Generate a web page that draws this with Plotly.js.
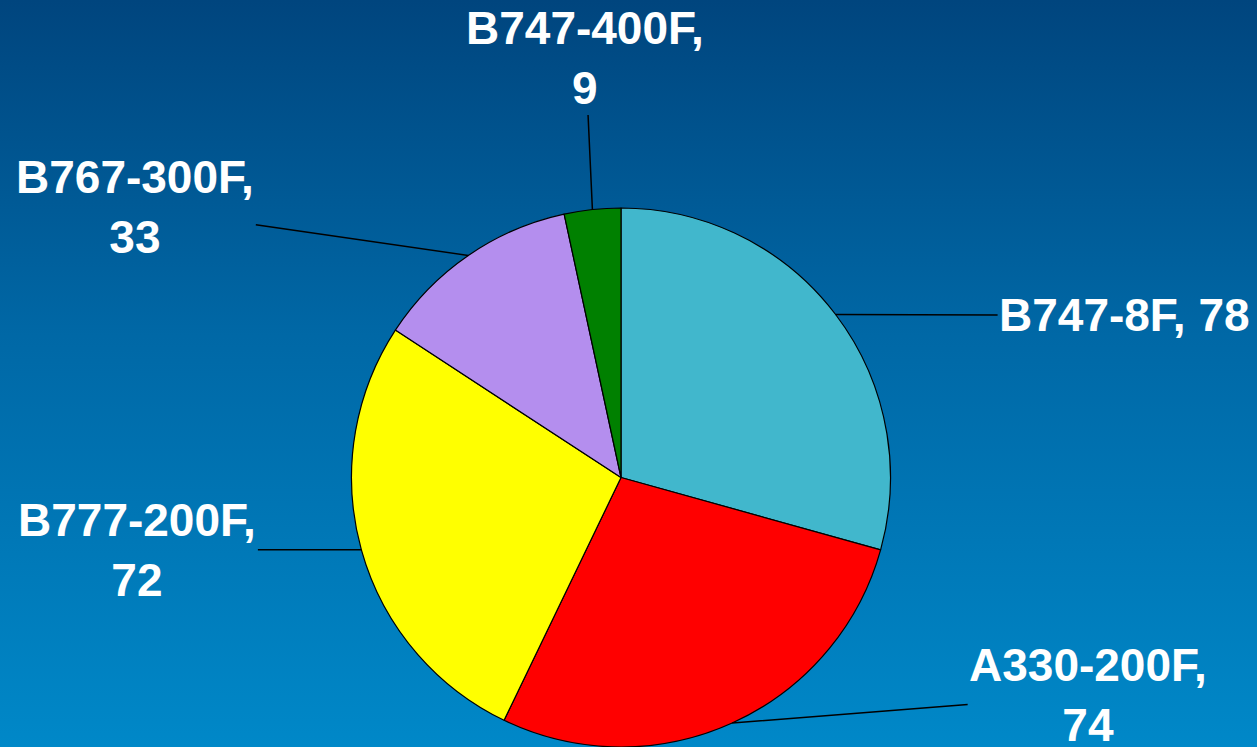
<!DOCTYPE html>
<html>
<head>
<meta charset="utf-8">
<script src="https://cdn.plot.ly/plotly-3.0.1.min.js"></script>
<style>
  html, body { margin: 0; padding: 0; }
  body {
    width: 1257px; height: 747px; overflow: hidden;
    background: linear-gradient(to bottom, #00457e 0%, #0068a6 45%, #0088c8 100%);
  }
  #grafico { width: 1257px; height: 747px; }
</style>
</head>
<body>
<div id="grafico"></div>
<script>
// Datos de la flota de cargueros
const modelos = ["B747-8F", "A330-200F", "B777-200F", "B767-300F", "B747-400F"];
const cantidades = [78, 74, 72, 33, 9];
const etiquetas = ["B747-8F, 78", "A330-200F,<br>74", "B777-200F,<br>72", "B767-300F,<br>33", "B747-400F,<br>9"];

const colores = ["#41b7cc", "#ff0000", "#ffff00", "#b48eee", "#008000"];
// desplazamiento del texto respecto al borde de la porción (px)
const desplazX = [289, 356, -224, -333, -7];
const desplazY = [1, -28, 0, -48, -152];

const W = 1257, H = 747;
const margen = { l: 0, r: 0, t: 208, b: 0 };
const altoPlot = H - margen.t - margen.b;
const cx = 621;
const R = altoPlot / 2;
const cy = margen.t + R;

const total = cantidades.reduce((a, b) => a + b, 0);
let acumulado = 0;
const anotaciones = cantidades.map((v, i) => {
    const medio = (acumulado + v / 2) / total * 2 * Math.PI;
    acumulado += v;
    const px = cx + R * Math.sin(medio);
    const py = cy - R * Math.cos(medio);
    return {
        x: px / W,
        y: (H - margen.b - py) / altoPlot,
        xref: "paper", yref: "paper",
        text: "<b>" + etiquetas[i] + "</b>",
        showarrow: true,
        arrowhead: 0,
        arrowwidth: 1.5,
        arrowcolor: "#000000",
        ax: desplazX[i],
        ay: desplazY[i],
        font: { family: "Liberation Sans, Arial, sans-serif", size: 46, color: "#ffffff" },
        align: "center"
    };
});

Plotly.newPlot("grafico", [{
    type: "pie",
    labels: modelos,
    values: cantidades,
    sort: false,
    direction: "clockwise",
    rotation: 0,
    textinfo: "none",
    hoverinfo: "none",
    marker: { colors: colores, line: { color: "#000000", width: 1.2 } },
    domain: { x: [(cx - R) / W, (cx + R) / W], y: [0, 1] }
}], {
    width: W,
    height: H,
    margin: margen,
    showlegend: false,
    paper_bgcolor: "rgba(0,0,0,0)",
    plot_bgcolor: "rgba(0,0,0,0)",
    annotations: anotaciones
}, { displayModeBar: false, staticPlot: true });
</script>
</body>
</html>
